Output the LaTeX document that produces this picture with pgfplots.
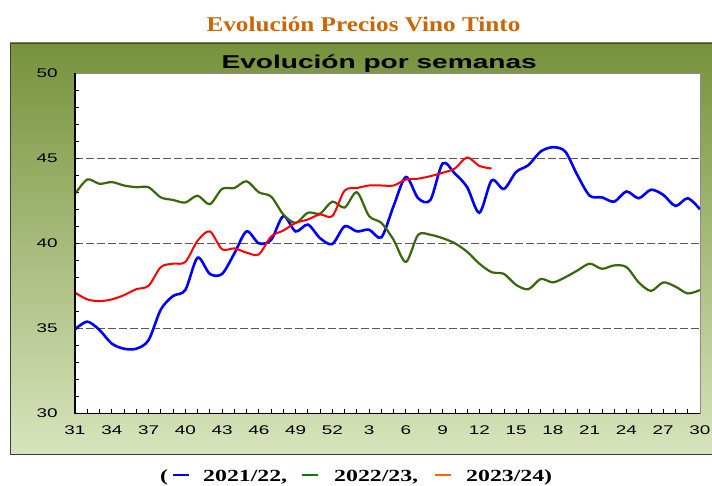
\documentclass[border=0pt]{standalone}
\usepackage{pgfplots}
\pgfplotsset{compat=1.18}
\usepackage{fontspec}
\setmainfont{Liberation Serif}
\setsansfont{Liberation Sans}
\definecolor{olivetop}{RGB}{119,146,60}
\definecolor{olivebot}{RGB}{216,228,188}
\definecolor{s21}{RGB}{0,0,255}
\definecolor{s22}{RGB}{56,104,10}
\definecolor{s23}{RGB}{255,0,0}
\definecolor{leggreen}{RGB}{0,128,0}
\definecolor{legorange}{RGB}{255,102,0}
\definecolor{titlec}{RGB}{204,102,0}
% the reference text is stretched sideways
\newcommand{\sx}[1]{\scalebox{1.5}[1]{#1}}
\newcommand{\lx}[1]{\scalebox{1.4}[1]{#1}}
\newcommand{\tickfont}{\sffamily\fontsize{12.6}{14}\selectfont}

\begin{document}
\begin{tikzpicture}[x=1pt,y=1pt]
\path[use as bounding box, fill=white] (0,0) rectangle (712,485);
\shade[top color=olivetop, bottom color=olivebot] (10,31) rectangle (712,442);
\draw[black!75, line width=0.8pt] (712,442) -- (10,442) -- (10,31) -- (712,31);
\coordinate (plotsw) at (75,71.7);

\begin{axis}[
  at={(plotsw)}, anchor=south west,
  scale only axis, width=625pt, height=340pt,
  xmin=0, xmax=51, ymin=30, ymax=50,
  axis background/.style={fill=white},
  axis line style={draw=black!45, line width=0.8pt},
  xtick={0,3,...,51},
  xticklabels={\sx{31},\sx{34},\sx{37},\sx{40},\sx{43},\sx{46},\sx{49},\sx{52},\sx{3},\sx{6},\sx{9},\sx{12},\sx{15},\sx{18},\sx{21},\sx{24},\sx{27},\sx{30}},
  ytick={30,35,40,45,50},
  yticklabels={\sx{30},\sx{35},\sx{40},\sx{45},\sx{50}},
  minor x tick num=2, minor y tick num=4,
  xtick pos=left, ytick pos=left,
  tick align=inside,
  major tick length=4pt, minor tick length=4pt,
  tick style={black, line width=0.8pt},
  ymajorgrids,
  major grid style={black!65, line width=0.9pt, dash pattern=on 8pt off 3pt},
  ticklabel style={font=\tickfont},
  xticklabel style={yshift=-9pt},
  yticklabel style={xshift=-13.8pt},
  clip mode=individual,
]
% 2021/22
\addplot[s21, line width=2.6pt, smooth] coordinates {
(0,34.94) (1,35.39) (2,34.9) (3,34.1) (4,33.8) (5,33.8) (6,34.3) (7,36.1)
(8,36.9) (9,37.25) (10,39.15) (11,38.2) (12,38.2) (13,39.4) (14,40.7) (15,40.0)
(16,40.2) (17,41.6) (18,40.7) (19,41.1) (20,40.3) (21,39.96) (22,41.0) (23,40.7)
(24,40.8) (25,40.35) (26,42.2) (27,43.9) (28,42.65) (29,42.55) (30,44.7) (31,44.1)
(32,43.3) (33,41.8) (34,43.7) (35,43.2) (36,44.2) (37,44.6) (38,45.4) (39,45.65)
(40,45.4) (41,44.0) (42,42.8) (43,42.7) (44,42.45) (45,43.05) (46,42.65) (47,43.15)
(48,42.85) (49,42.2) (50,42.65) (51,42.0)
};
% 2022/23
\addplot[s22, line width=2.2pt, smooth] coordinates {
(0,42.9) (1,43.75) (2,43.5) (3,43.6) (4,43.4) (5,43.3) (6,43.3) (7,42.7)
(8,42.55) (9,42.4) (10,42.8) (11,42.3) (12,43.2) (13,43.25) (14,43.65) (15,43.0)
(16,42.75) (17,41.7) (18,41.2) (19,41.8) (20,41.75) (21,42.45) (22,42.1) (23,43.0)
(24,41.6) (25,41.2) (26,40.2) (27,38.9) (28,40.5) (29,40.5) (30,40.3) (31,40.0)
(32,39.5) (33,38.8) (34,38.3) (35,38.2) (36,37.55) (37,37.3) (38,37.9) (39,37.7)
(40,38.0) (41,38.4) (42,38.8) (43,38.5) (44,38.7) (45,38.6) (46,37.7) (47,37.2)
(48,37.7) (49,37.45) (50,37.05) (51,37.25)
};
% 2023/24
\addplot[s23, line width=2pt, smooth] coordinates {
(0,37.1) (1,36.7) (2,36.6) (3,36.7) (4,36.95) (5,37.3) (6,37.5) (7,38.6)
(8,38.8) (9,38.9) (10,40.15) (11,40.7) (12,39.65) (13,39.7) (14,39.45) (15,39.35)
(16,40.4) (17,40.75) (18,41.2) (19,41.4) (20,41.7) (21,41.6) (22,43.1) (23,43.25)
(24,43.4) (25,43.4) (26,43.4) (27,43.75) (28,43.8) (29,43.95) (30,44.15) (31,44.4)
(32,45.05) (33,44.55) (34,44.4)
};
\draw[black, line width=1.4pt] (rel axis cs:0,1) -- (rel axis cs:0,0) -- (rel axis cs:1,0);
\end{axis}

\node[anchor=base, text=titlec, font=\bfseries\fontsize{21}{24}\selectfont, inner sep=0]
  at (363.5,453.3) {\scalebox{1.2}[1]{Evolución Precios Vino Tinto}};
\node[anchor=base, font=\sffamily\bfseries\fontsize{18.6}{20}\selectfont, inner sep=0]
  at (379.2,416) {\scalebox{1.51}[1]{Evolución por semanas}};

% legend line below the chart
\begin{scope}[every node/.style={anchor=base west, inner sep=0, font=\bfseries\fontsize{17}{20}\selectfont}]
\node at (160,4) {\lx{(}};
\draw[s21, line width=1.3pt] (173,10) -- (189,10);
\node at (203,4) {\lx{2021/22,}};
\draw[leggreen, line width=1.3pt] (302,10) -- (318,10);
\node at (334,4) {\lx{2022/23,}};
\draw[legorange, line width=1.3pt] (435,10) -- (451,10);
\node at (466,4) {\lx{2023/24)}};
\end{scope}
\end{tikzpicture}
\end{document}
